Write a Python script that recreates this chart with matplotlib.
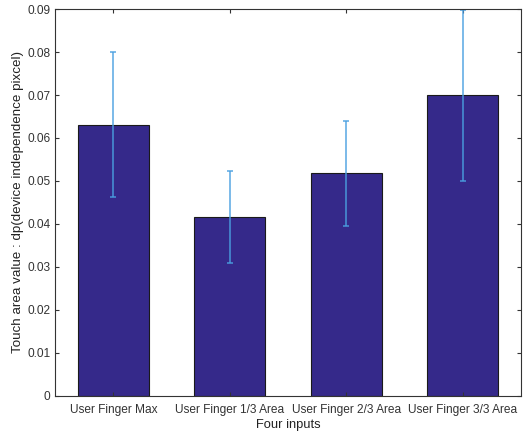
import numpy as np
import matplotlib
matplotlib.use("Agg")
import matplotlib.pyplot as plt

# bar data
labels = ["User Finger Max", "User Finger 1/3 Area", "User Finger 2/3 Area", "User Finger 3/3 Area"]
means = [0.0631, 0.0415, 0.0518, 0.0699]
errs = [0.0169, 0.0107, 0.0122, 0.0200]

plt.rcParams['font.family'] = ['Liberation Sans', 'DejaVu Sans']

fig = plt.figure(figsize=(5.3, 4.33), dpi=100)
ax = fig.add_axes([0.104, 0.086, 0.879, 0.893])

x = np.arange(1, len(means) + 1)
ax.bar(x, means, width=0.61, color='#35298a', edgecolor='#1a1a1a', linewidth=0.8)
ax.errorbar(x, means, yerr=errs, fmt='none', ecolor='#4a9fe0', elinewidth=1.2,
            capsize=2, capthick=1.2, alpha=0.85)

ax.set_xlim(0.5, 4.5)
ax.set_ylim(0, 0.09)
ax.set_xticks(x)
ax.set_xticklabels(labels)
ax.set_yticks(np.arange(0, 0.091, 0.01))
ax.set_yticklabels(['0'] + ['%.2f' % v for v in np.arange(0.01, 0.091, 0.01)])

ax.tick_params(direction='in', top=True, right=True, labelsize=8.6, colors='#333333', length=3)
ax.tick_params(axis='x', pad=6)
for s in ax.spines.values():
    s.set_color('#333333')
    s.set_linewidth(0.8)

ax.set_xlabel("Four inputs", fontsize=9.3, labelpad=2, color='#222222')
ax.set_ylabel("Touch area value : dp(device independence pixcel)", fontsize=9.6, labelpad=2, color='#222222')

fig.savefig("out.png", dpi=100)
